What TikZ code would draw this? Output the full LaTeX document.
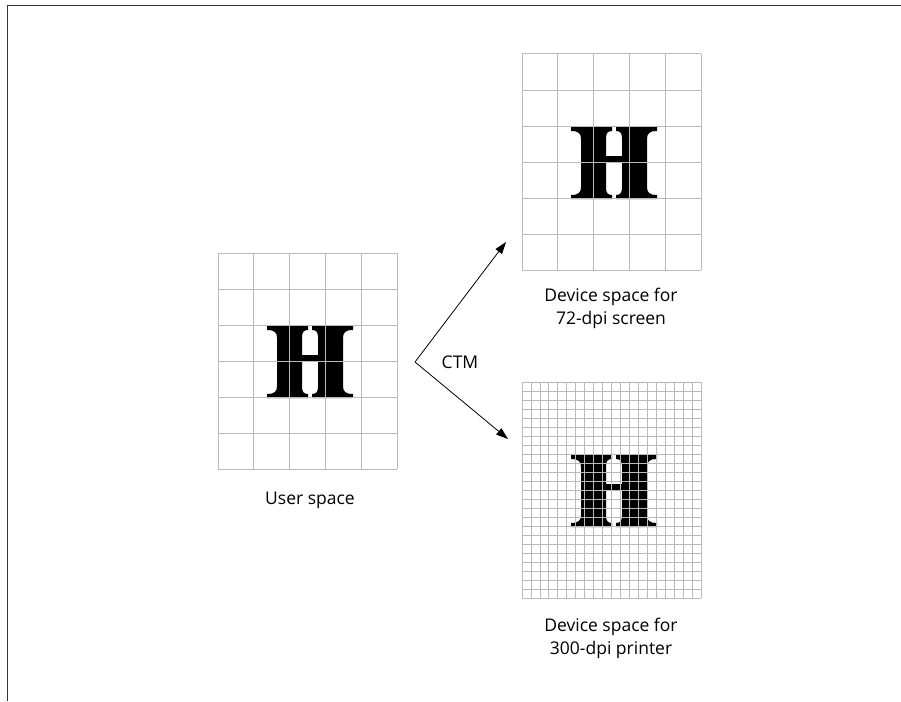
\documentclass[tikz,border=0pt]{standalone}
\usepackage{fontspec}
\setmainfont{Open Sans}
\usetikzlibrary{arrows.meta}
\tikzset{
  gridline/.style={draw=black!27, line width=1pt},
  fineline/.style={draw=black!27, line width=0.8pt},
  lbl/.style={font=\fontsize{17.5}{22.5}\selectfont, align=center, inner sep=0pt},
  conn/.style={line width=0.8pt, -{Triangle[length=12pt,width=8pt]}},
  frameline/.style={line width=1.8pt, draw=black!80},
  gridbox/.style={draw=none, minimum width=179pt, minimum height=216pt, inner sep=0pt, anchor=north west},
}
\newcommand\glyphH[2]{%
  \begin{scope}[shift={(#1,#2)}]
    \fill (0,72) -- (41,72) -- (41,68) .. controls (37,68) and (35,66) .. (35,61)
      -- (35,11) .. controls (35,6) and (37,4) .. (41,4) -- (41,0) -- (0,0) -- (0,4)
      .. controls (7.5,4) and (10,6.5) .. (10,12) -- (10,60) .. controls (10,65.5) and (7.5,68) .. (0,68) -- cycle;
    \fill (86,72) -- (45,72) -- (45,68) .. controls (49,68) and (51,66) .. (51,61)
      -- (51,11) .. controls (51,6) and (49,4) .. (45,4) -- (45,0) -- (86,0) -- (86,4)
      .. controls (78.5,4) and (76,6.5) .. (76,12) -- (76,60) .. controls (76,65.5) and (78.5,68) .. (86,68) -- cycle;
    \fill (34,29) rectangle (52,36);
  \end{scope}}
\newcommand\gridlines[7]{% style x0 y0 w h ncols nrows
  \foreach \i in {0,...,#6} \draw[#1] ({#2+\i*#4/#6},#3) -- ({#2+\i*#4/#6},{#3+#5});
  \foreach \j in {0,...,#7} \draw[#1] (#2,{#3+\j*#5/#7}) -- ({#2+#4},{#3+\j*#5/#7});
}
\begin{document}
\begin{tikzpicture}[x=1pt,y=-1pt]
  \useasboundingbox (0,0) rectangle (901,701);
  \fill[white] (0,0) rectangle (901,701);
  % frame
  \draw[frameline] (7.5,701) -- (7.5,5.5) -- (901,5.5);
  % grid boxes
  \node[gridbox] (user) at (218,253) {};
  \node[gridbox] (screen) at (522,54) {};
  \node[gridbox] (printer) at (522,382) {};
  % glyphs
  \glyphH{267}{326}
  \glyphH{571}{127}
  \glyphH{571}{455}
  % grids
  \gridlines{gridline}{218}{253}{179}{216}{5}{6}
  \gridlines{gridline}{522}{54}{179}{216}{5}{6}
  \gridlines{fineline}{522}{382}{179}{216}{20}{24}
  % labels
  \node[lbl, anchor=north] (userlbl) at (310,492) {User space};
  \node[lbl, anchor=north] (screenlbl) at (611,288) {Device space for\\72-dpi screen};
  \node[lbl, anchor=north] (printerlbl) at (611,618) {Device space for\\300-dpi printer};
  \node[lbl, anchor=center] (ctm) at (460,362.5) {CTM};
  % connectors
  \coordinate (v) at (415,362);
  \coordinate (t1) at (506,242);
  \coordinate (t2) at (508,439);
  \draw[conn] (v) -- (t1);
  \draw[conn] (v) -- (t2);
\end{tikzpicture}
\end{document}
